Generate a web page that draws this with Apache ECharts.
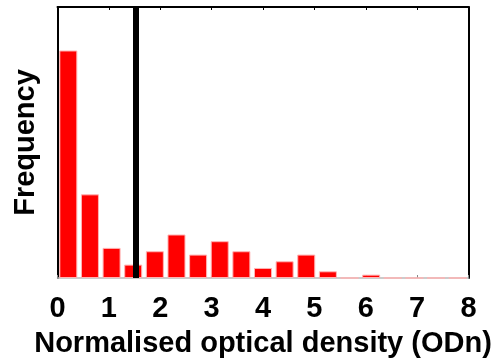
<!DOCTYPE html>
<html>
<head>
<meta charset="utf-8">
<script src="https://cdn.jsdelivr.net/npm/echarts@6/dist/echarts.min.js"></script>
<style>html,body{margin:0;padding:0;background:#fff;}#c{width:502px;height:363px;}</style>
</head>
<body>
<div id="c"></div>
<script>
// Histogram: 19 equal bins spanning 0..8 ODn
const binCount = 19;
const xMin = 0;
const xMax = 8;
const counts = [68, 25, 9, 4, 8, 13, 7, 11, 8, 3, 5, 7, 2, 0, 1, 0, 0, 0, 0];
const thresholdODn = 1.52;
const xTickLabels = ['0','1','2','3','4','5','6','7','8'];
const yMax = 81;

const binWidth = (xMax - xMin) / binCount;
const barData = counts.map((c, i) => [xMin + (i + 0.5) * binWidth, c]);

const chart = echarts.init(document.getElementById('c'));
const fontFam = '"Liberation Sans", Arial, Helvetica, sans-serif';
chart.setOption({
  animation: false,
  grid: { left: 57.5, right: 33.5, top: 7, bottom: 85, containLabel: false },
  xAxis: [{
    type: 'value', min: xMin, max: xMax, interval: 1, position: 'bottom',
    axisLine: { show: true, onZero: false, lineStyle: { color: '#bbbbbb', width: 1.5 } },
    axisTick: { show: true, inside: true, length: 3, lineStyle: { color: '#888' } },
    splitLine: { show: false },
    axisLabel: { formatter: v => xTickLabels[Math.round(v)], color: '#000', fontFamily: fontFam, fontWeight: 'bold', fontSize: 29, margin: 16 },
    name: 'Normalised optical density (ODn)', nameLocation: 'middle', nameGap: 51,
    nameTextStyle: { color: '#000', fontFamily: fontFam, fontWeight: 'bold', fontSize: 29 }
  }, {
    type: 'value', min: xMin, max: xMax, interval: 1, position: 'top',
    axisLine: { show: true, onZero: false, lineStyle: { color: '#000', width: 2 } },
    axisTick: { show: true, inside: true, length: 3, lineStyle: { color: '#000', width: 1 } },
    axisLabel: { show: false }, splitLine: { show: false }
  }],
  yAxis: [{
    type: 'value', min: 0, max: yMax, position: 'left',
    axisLine: { show: true, onZero: false, lineStyle: { color: '#000', width: 2 } },
    axisTick: { show: false }, axisLabel: { show: false }, splitLine: { show: false },
    name: 'Frequency', nameLocation: 'middle', nameGap: 17, nameRotate: 90,
    nameTextStyle: { color: '#000', fontFamily: fontFam, fontWeight: 'bold', fontSize: 29 }
  }, {
    type: 'value', min: 0, max: yMax, position: 'right',
    axisLine: { show: true, onZero: false, lineStyle: { color: '#000', width: 2 } },
    axisTick: { show: false }, axisLabel: { show: false }, splitLine: { show: false }
  }],
  series: [{
    type: 'bar', xAxisIndex: 0, yAxisIndex: 0,
    data: barData, barWidth: 18,
    itemStyle: { color: '#ff0000', borderColor: '#ffb3b3', borderWidth: 1 },
    markLine: {
      silent: true, symbol: ['none', 'none'], label: { show: false },
      lineStyle: { color: '#000', width: 6, type: 'solid' },
      data: [{ xAxis: thresholdODn }]
    }
  }]
});
</script>
</body>
</html>
